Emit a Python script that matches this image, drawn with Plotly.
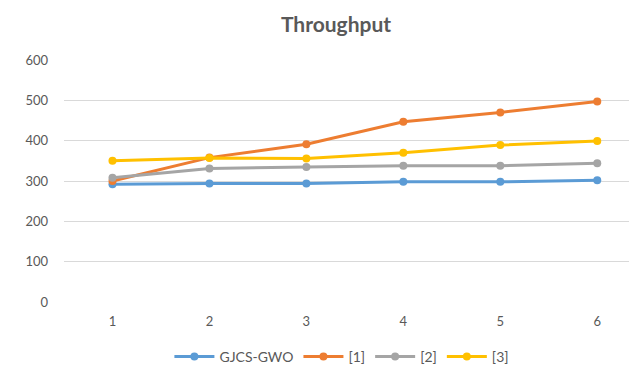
import plotly.graph_objects as go

categories = [1, 2, 3, 4, 5, 6]
gjcs_gwo = [292, 294, 294, 298, 298, 302]
ref1 = [300, 358, 391, 447, 470, 497]
ref2 = [308, 331, 335, 338, 338, 344]
ref3 = [350, 357, 356, 370, 389, 399]
series_names = ["GJCS-GWO", "[1]", "[2]", "[3]"]
colors = ["#5B9BD5", "#ED7D31", "#A5A5A5", "#FFC000"]
y_ticks = [0, 100, 200, 300, 400, 500, 600]

FONT = "Lato, 'Liberation Sans', sans-serif"

fig = go.Figure()
for name, vals, col in zip(series_names, [gjcs_gwo, ref1, ref2, ref3], colors):
    fig.add_trace(go.Scatter(
        x=categories, y=vals, name=name, mode="lines+markers",
        line=dict(color=col, width=3),
        marker=dict(color=col, size=8),
        cliponaxis=False,
    ))

# page body has an 8px margin, so the figure is offset by (8, 8) in the window
fig.update_layout(
    width=637, height=369,
    margin=dict(l=56, r=8, t=52, b=75),
    paper_bgcolor="white", plot_bgcolor="white",
    title=dict(text="<b>Throughput</b>", x=328 / 637, xref="container", xanchor="center",
               y=1 - 17 / 369, yref="container", yanchor="middle",
               font=dict(family=FONT, size=21, color="#595959")),
    font=dict(family=FONT, size=13, color="#595959"),
    xaxis=dict(range=[0.5, 6.41], tickmode="array", tickvals=categories,
               ticktext=[str(c) for c in categories],
               showgrid=False, zeroline=False, showline=False,
               ticks="", ticklabelstandoff=10, fixedrange=True),
    yaxis=dict(range=[0, 600], tickmode="array", tickvals=y_ticks,
               showgrid=True, gridcolor="#D9D9D9", gridwidth=1,
               zeroline=False, showline=False, ticks="",
               ticklabelstandoff=15, fixedrange=True),
    legend=dict(orientation="h", x=0.485, xanchor="center",
                y=1 - 349 / 369, yanchor="middle", yref="container",
                font=dict(family=FONT, size=14, color="#595959"),
                itemwidth=40, tracegroupgap=0),
    showlegend=True,
)

fig.write_html("out.html")
